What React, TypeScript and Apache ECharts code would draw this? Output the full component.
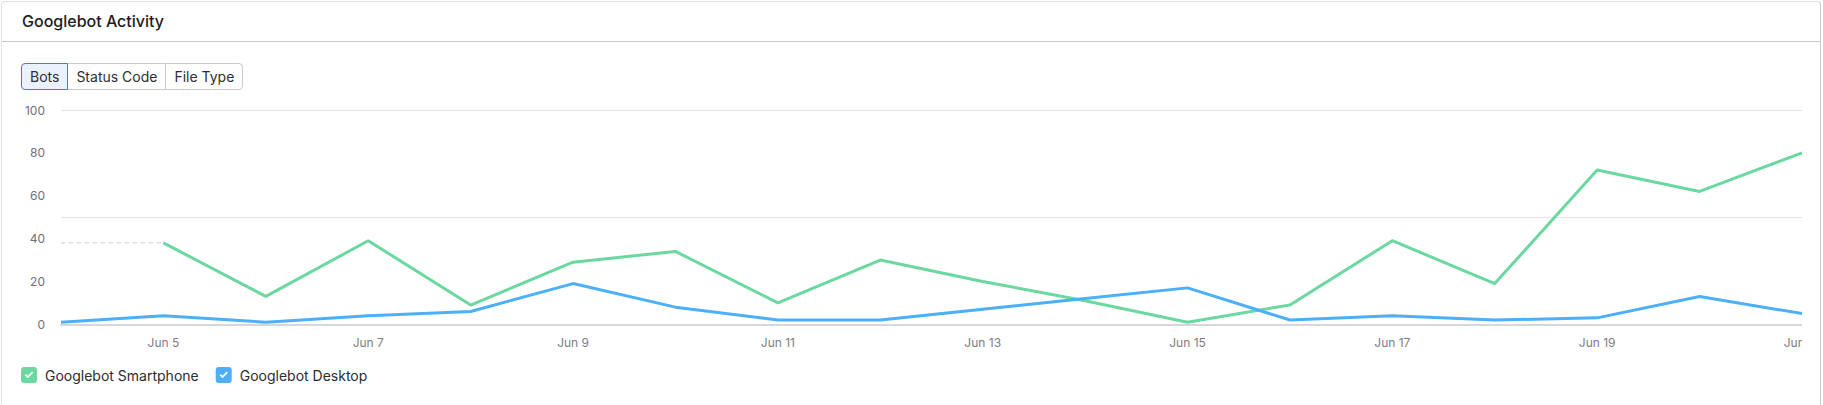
import React, { useEffect, useRef } from "react";
import * as echarts from "echarts";

const categories = [
  "Jun 4", "Jun 5", "Jun 6", "Jun 7", "Jun 8", "Jun 9", "Jun 10", "Jun 11", "Jun 12",
  "Jun 13", "Jun 14", "Jun 15", "Jun 16", "Jun 17", "Jun 18", "Jun 19", "Jun 20", "Jun 21",
];
const smartphone = [null, 38, 13, 39, 9, 29, 34, 10, 30, 20, 11, 1, 9, 39, 19, 72, 62, 80];
const desktop = [1, 4, 1, 4, 6, 19, 8, 2, 2, 7, 12, 17, 2, 4, 2, 3, 13, 5];
const missingGap = [38, 38, null, null, null, null, null, null, null, null, null, null, null, null, null, null, null, null];
const seriesNames = ["Googlebot Smartphone", "Googlebot Desktop"];
const tabs = ["Bots", "Status Code", "File Type"];

const GREEN = "#6ad89f";
const BLUE = "#4caffa";
const FONT = "Inter, 'Noto Sans', sans-serif";

const CHECK_ICON =
  "path://M3 0H13A3 3 0 0 1 16 3V13A3 3 0 0 1 13 16H3A3 3 0 0 1 0 13V3A3 3 0 0 1 3 0Z" +
  "M3.8 8.2L6.8 11.2L12.2 5.8L11 4.6L6.8 8.8L5 7Z";

function Chart() {
  const ref = useRef<HTMLDivElement>(null);
  useEffect(() => {
    if (!ref.current) return;
    const chart = echarts.init(ref.current, null, { renderer: "svg" });
    chart.setOption({
      animation: false,
      grid: {
        left: 61,
        right: 0,
        top: 20,
        bottom: 75.7,
        containLabel: false,
        outerBoundsMode: "none",
      },
      legend: {
        data: seriesNames,
        left: 21,
        top: 277,
        padding: 0,
        icon: CHECK_ICON,
        itemWidth: 16,
        itemHeight: 16,
        itemGap: 17,
        textStyle: { fontFamily: FONT, fontSize: 14, color: "#2b2b30", padding: [0, 0, 0, 3] },
      },
      xAxis: {
        type: "category",
        data: categories,
        boundaryGap: false,
        axisLine: { lineStyle: { color: "#d6d6db", width: 2 } },
        axisTick: { show: false },
        axisLabel: {
          interval: (i: number) => i % 2 === 1,
          color: "#7c7c86",
          fontFamily: FONT,
          fontSize: 12,
          margin: 12,
          hideOverlap: false,
        },
        splitLine: { show: false },
      },
      yAxis: [
        {
          type: "value",
          min: 0,
          max: 100,
          interval: 20,
          axisLine: { show: false },
          axisTick: { show: false },
          axisLabel: { color: "#6f6f79", fontFamily: FONT, fontSize: 12, margin: 16 },
          splitLine: { show: false },
        },
        {
          type: "value",
          position: "left",
          min: 0,
          max: 100,
          interval: 50,
          axisLine: { show: false },
          axisTick: { show: false },
          axisLabel: { show: false },
          splitLine: { show: true, lineStyle: { color: "#e3e3e8", width: 1 } },
        },
      ],
      series: [
        {
          name: "gap",
          type: "line",
          data: missingGap,
          symbol: "none",
          silent: true,
          lineStyle: { color: "#cdcdd2", width: 1, type: [4, 4] },
          z: 1,
        },
        {
          name: seriesNames[0],
          type: "line",
          data: smartphone,
          symbol: "none",
          color: GREEN,
          lineStyle: { color: GREEN, width: 3 },
          z: 3,
        },
        {
          name: seriesNames[1],
          type: "line",
          data: desktop,
          symbol: "none",
          color: BLUE,
          lineStyle: { color: BLUE, width: 3 },
          z: 3,
        },
      ],
    });
    return () => chart.dispose();
  }, []);
  return (
    <div
      ref={ref}
      style={{ position: "absolute", left: 0, top: 90, width: 1802, height: 310, overflow: "hidden" }}
    />
  );
}

export default function App() {
  return (
    <div
      style={{
        position: "fixed",
        left: 0,
        top: 0,
        width: 1823,
        height: 405,
        overflow: "hidden",
        background: "#ffffff",
        fontFamily: FONT,
      }}
    >
      <div
        style={{
          position: "absolute",
          left: 1,
          top: 1,
          width: 1820,
          height: 440,
          border: "1px solid #e2e2e7",
          borderRight: "1px solid #c9c9ce",
          borderRadius: 4,
          boxSizing: "border-box",
        }}
      >
        <div
          style={{
            height: 40,
            borderBottom: "1px solid #c8c8cd",
            boxSizing: "border-box",
            display: "flex",
            alignItems: "center",
            paddingLeft: 20,
            paddingBottom: 2,
            fontSize: 16,
            fontWeight: 500,
            color: "#1c1c20",
          }}
        >
          Googlebot Activity
        </div>
      </div>
      <div style={{ position: "absolute", left: 21, top: 63, display: "flex" }}>
        {tabs.map((t, i) => {
          const selected = i === 0;
          return (
            <div
              key={t}
              style={{
                height: 27,
                boxSizing: "border-box",
                padding: "0 8px",
                display: "flex",
                alignItems: "center",
                fontSize: 14,
                color: "#2e2e33",
                background: selected ? "#eaf2ff" : "#ffffff",
                border: selected ? "1px solid #3d7ee0" : "1px solid #c9c9ce",
                marginLeft: i === 0 ? 0 : -1,
                zIndex: selected ? 2 : 1,
                borderRadius:
                  i === 0 ? "4px 0 0 4px" : i === tabs.length - 1 ? "0 4px 4px 0" : 0,
              }}
            >
              {t}
            </div>
          );
        })}
      </div>
      <Chart />
    </div>
  );
}
